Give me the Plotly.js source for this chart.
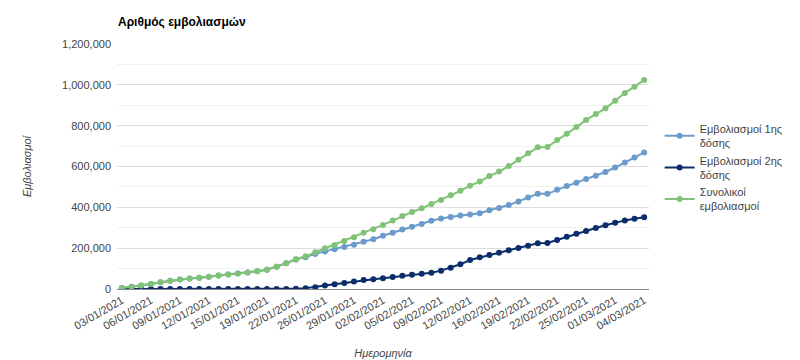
<!DOCTYPE html>
<html>
<head>
<meta charset="utf-8">
<script src="https://cdn.plot.ly/plotly-3.0.1.min.js"></script>
<style>html,body{margin:0;padding:0;background:#fff;}#chart{width:800px;height:360px;}</style>
</head>
<body>
<div id="chart"></div>
<script>
const dates = ["03/01/2021","04/01/2021","05/01/2021","06/01/2021","07/01/2021","08/01/2021","09/01/2021","10/01/2021","11/01/2021","12/01/2021","13/01/2021","14/01/2021","15/01/2021","16/01/2021","18/01/2021","19/01/2021","20/01/2021","21/01/2021","22/01/2021","23/01/2021","25/01/2021","26/01/2021","27/01/2021","28/01/2021","29/01/2021","30/01/2021","01/02/2021","02/02/2021","03/02/2021","04/02/2021","05/02/2021","06/02/2021","08/02/2021","09/02/2021","10/02/2021","11/02/2021","12/02/2021","13/02/2021","15/02/2021","16/02/2021","17/02/2021","18/02/2021","19/02/2021","20/02/2021","21/02/2021","22/02/2021","23/02/2021","24/02/2021","25/02/2021","26/02/2021","27/02/2021","01/03/2021","02/03/2021","03/03/2021","04/03/2021"];

const tickLabels = ["03/01/2021","06/01/2021","09/01/2021","12/01/2021","15/01/2021","19/01/2021","22/01/2021","26/01/2021","29/01/2021","02/02/2021","05/02/2021","09/02/2021","12/02/2021","16/02/2021","19/02/2021","22/02/2021","25/02/2021","01/03/2021","04/03/2021"];

const firstDose = [5000,11000,17000,24000,33000,40000,46000,51000,55000,60000,66000,71000,76000,81000,87000,94000,109000,126000,145000,156000,172000,184000,195000,206000,217000,231000,244000,261000,276000,291000,305000,318000,334000,345000,353000,360000,365000,371000,386000,397000,411000,429000,448000,466000,466000,486000,504000,521000,539000,555000,573000,595000,620000,644000,669000];

const secondDose = [0,0,0,0,0,0,0,0,0,0,0,0,0,0,0,0,0,0,1000,4000,9000,17000,23000,30000,37000,44000,48000,53000,59000,65000,70000,75000,80000,90000,104000,121000,142000,155000,166000,178000,190000,201000,212000,224000,225000,240000,256000,271000,284000,299000,312000,325000,336000,344000,351000];

const totalDoses = [5000,11000,17000,24000,33000,40000,46000,51000,55000,60000,66000,71000,76000,81000,87000,94000,109000,126000,146000,160000,180000,199000,216000,235000,254000,275000,293000,314000,335000,357000,377000,395000,416000,436000,459000,481000,506000,526000,553000,575000,602000,633000,665000,694000,695000,730000,761000,793000,828000,857000,885000,922000,960000,991000,1024000];

const seriesNames = ["Εμβολιασμοί 1ης<br>δόσης","Εμβολιασμοί 2ης<br>δόσης","Συνολικοί<br>εμβολιασμοί"];
const colors = ["#6a9bcb","#0b2d6b","#80c276"];
const values = [firstDose, secondDose, totalDoses];

const traces = values.map((v,i)=>({
  type:'scatter', mode:'lines+markers', x: dates, y: v, name: seriesNames[i],
  line:{color:colors[i], width:2}, marker:{color:colors[i], size:6}
}));

const layout = {
  width:800, height:360,
  margin:{l:117, r:135, t:44, b:71},
  paper_bgcolor:'#fff', plot_bgcolor:'#fff',
  font:{family:'"Liberation Sans", Arial, sans-serif', size:11, color:'#444'},
  title:{text:'<b>Αριθμός εμβολιασμών</b>', x:118/800, xanchor:'left', xref:'container', y:1-22/360, yref:'container', yanchor:'middle', font:{size:12, color:'#000'}},
  xaxis:{type:'category', range:[-0.5,54.5], tickmode:'array', tickvals:tickLabels, ticktext:tickLabels, tickangle:-30, showgrid:false, showline:true, linecolor:'#888', linewidth:1, ticks:'', tickfont:{size:11, color:'#444'},
    title:{text:'<i>Ημερομηνία</i>', font:{size:11, color:'#444'}, standoff:18}},
  yaxis:{range:[0,1200000], dtick:200000, tickformat:',d', showgrid:true, gridcolor:'#ddd', zeroline:false, ticks:'', ticklabelstandoff:5, tickfont:{size:11,color:'#444'},
    minor:{dtick:100000, showgrid:true, gridcolor:'#f0f0f0'},
    title:{text:'<i>Εμβολιασμοί</i>', font:{size:11,color:'#444'}, standoff:28}},
  legend:{x:1.02, xanchor:'left', y:0.71, yanchor:'top', font:{size:11,color:'#444'}, tracegroupgap:0, bgcolor:'rgba(0,0,0,0)'},
  showlegend:true
};

Plotly.newPlot('chart', traces, layout, {displayModeBar:false, staticPlot:true});
</script>
</body>
</html>
